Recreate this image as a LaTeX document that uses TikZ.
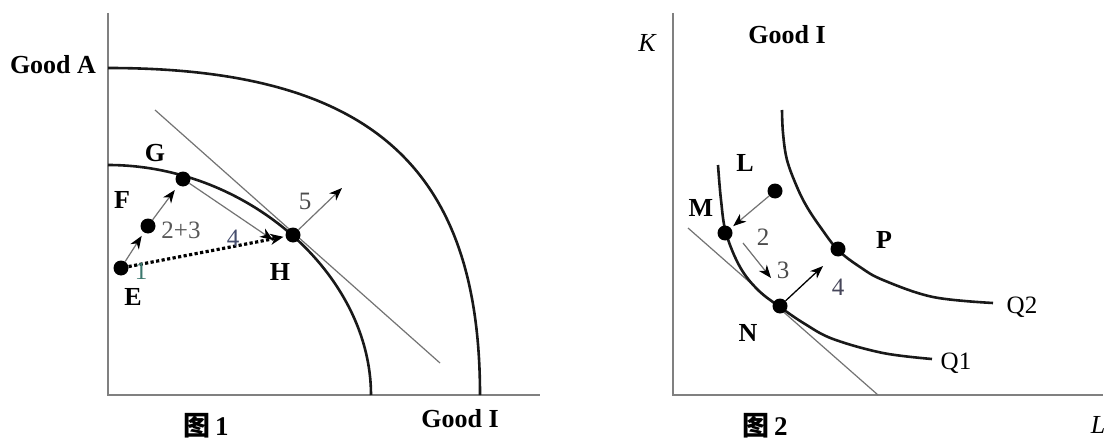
\documentclass[tikz,border=0pt]{standalone}
\usepackage{fontspec}
\setmainfont{Liberation Serif}
\newfontfamily\cjk{Noto Sans CJK SC}
\usetikzlibrary{arrows.meta}
\begin{document}
\begin{tikzpicture}[x=1pt,y=-1pt,
  axis/.style={draw=black!50, line width=1.8pt},
  curve/.style={draw=black!90, line width=2.6pt},
  thinline/.style={draw=black!55, line width=1.2pt},
  arr/.style={-{Stealth[length=13pt,width=10pt,inset=4pt,color=black]}},
  dot/.style={circle, fill=black, inner sep=0pt, minimum size=15pt},
  lab/.style={font=\fontsize{26}{26}\selectfont\bfseries, inner sep=0pt},
  num/.style={font=\fontsize{25}{25}\selectfont, inner sep=0pt},
  figcap/.style={font=\fontsize{27}{27}\selectfont\bfseries, inner sep=0pt},
]
\useasboundingbox (0,0) rectangle (1113,441);
\fill[white] (0,0) rectangle (1113,441);

% ---------------- Figure 1 ----------------
\coordinate (ytop1) at (108,13);
\coordinate (o1) at (108,395);
\coordinate (xend1) at (540,395);
\draw[axis] (ytop1) -- (o1) -- (xend1);

% outer and inner frontiers
\draw[curve] (108,68) .. controls (368,68) and (480,165) .. (480,395);
\draw[curve] (108,165) .. controls (248,165) and (371,275) .. (371,395);

% tangent line
\coordinate (t1a) at (155,110);
\coordinate (t1b) at (440,363);
\draw[thinline] (t1a) -- (t1b);

% points
\node[dot] (E) at (121,268) {};
\node[dot] (F) at (148,226) {};
\node[dot] (G) at (183,179) {};
\node[dot] (H) at (293,235) {};
\coordinate (h4) at (273,240);
\coordinate (h5) at (342,188);

% arrows
\draw[thinline, arr, shorten >=4pt] (E) -- (F);
\draw[thinline, arr, shorten >=6pt] (F) -- (G);
\draw[thinline, arr] (G) -- (h4);
\draw[thinline, arr] (H) -- (h5);
\draw[line width=3.2pt, dash pattern=on 3.2pt off 2.4pt,
      -{Stealth[length=13pt,width=11pt,inset=4pt]}, shorten >=2pt] (E) -- (H);

% labels
\node[lab] (lGoodA) at (53,65) {Good A};
\node[lab] (lG) at (155,153) {G};
\node[lab] (lF) at (122,200) {F};
\node[lab] (lH) at (280,272) {H};
\node[lab] (lE) at (133,297) {E};
\node[num, text=black!65] (l23) at (181,230) {2+3};
\node[num, text={rgb,255:red,70;green,78;blue,110}] (l4a) at (233,238) {4};
\node[num, text={rgb,255:red,60;green,120;blue,110}] (l1) at (141,271) {1};
\node[num, text=black!70] (l5) at (305,201) {5};
\node[lab] (lGoodI1) at (460,419) {Good I};
\node[figcap] (fig1) at (206,426) {{\cjk 图}\,1};

% ---------------- Figure 2 ----------------
\coordinate (ytop2) at (673,13);
\coordinate (o2) at (673,395);
\coordinate (xend2) at (1103,395);
\draw[axis] (ytop2) -- (o2) -- (xend2);

% tangent line at N
\coordinate (t2a) at (688,228);
\coordinate (t2b) at (878,395);
\draw[thinline] (t2a) -- (t2b);

% isoquants
\draw[curve] plot[smooth, tension=0.6] coordinates
  {(718,165) (721,200) (726,233) (740,267) (758,290) (780,307) (805,324) (833,339) (883,353) (932,359)};
\draw[curve] plot[smooth, tension=0.6] coordinates
  {(782,110) (783,133) (787,160) (797,187) (807,207) (821,228) (838,250) (860,267) (883,280) (933,297) (993,303)};

% points
\node[dot] (Lp) at (775,191) {};
\node[dot] (M) at (725,233) {};
\node[dot] (N) at (780,306) {};
\node[dot] (P) at (838,249) {};
\coordinate (a3s) at (743,243);
\coordinate (a3e) at (771,278);
\coordinate (a4e) at (823,266);

% arrows
\draw[thinline, arr, shorten >=3pt] (Lp) -- (M);
\draw[thinline, arr] (a3s) -- (a3e);
\draw[line width=1.3pt, arr] (N) -- (a4e);

% labels
\node[font=\fontsize{26}{26}\selectfont\itshape, inner sep=0pt] (lK) at (647,43) {K};
\node[lab] (lGoodI2) at (787,35) {Good I};
\node[font=\fontsize{26}{26}\selectfont\itshape, inner sep=0pt] (lL) at (1098,425) {L};
\node[lab] (lLp) at (745,163) {L};
\node[lab] (lM) at (701,208) {M};
\node[lab] (lN) at (748,333) {N};
\node[lab] (lP) at (884,240) {P};
\node[num, text=black!70] (l2b) at (763,237) {2};
\node[num, text=black!70] (l3b) at (783,270) {3};
\node[num, text={rgb,255:red,70;green,70;blue,90}] (l4b) at (838,287) {4};
\node[num] (lQ2) at (1022,307) {Q2};
\node[num] (lQ1) at (956,363) {Q1};
\node[figcap] (fig2) at (765,426) {{\cjk 图}\,2};
\end{tikzpicture}
\end{document}
